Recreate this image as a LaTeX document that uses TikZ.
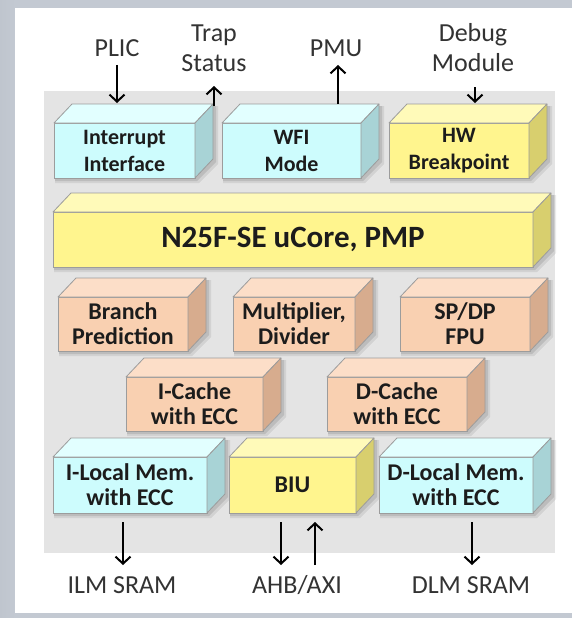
\documentclass[tikz,border=0pt]{standalone}
\usepackage{fontspec}
\setmainfont{Carlito}
\usetikzlibrary{arrows.meta}
\definecolor{outerbg}{HTML}{C3C9D2}
\definecolor{panelgray}{HTML}{E4E4E4}
\definecolor{edgegray}{HTML}{9C9C9C}
\definecolor{txt}{HTML}{1C1C1C}
\definecolor{cyanF}{HTML}{CDFCFD}
\definecolor{cyanT}{HTML}{E2FFFF}
\definecolor{cyanS}{HTML}{A8D3D6}
\definecolor{yelF}{HTML}{FFF58E}
\definecolor{yelT}{HTML}{FFFAB9}
\definecolor{yelS}{HTML}{D8CF6E}
\definecolor{peaF}{HTML}{F9D0B1}
\definecolor{peaT}{HTML}{FCDEC8}
\definecolor{peaS}{HTML}{D7AC8E}
\tikzset{
  cubefront/.style={draw=edgegray,line width=0.8pt,inner sep=0pt,outer sep=0pt,align=center,text=txt},
  cubeedge/.style={draw=edgegray,line width=0.8pt,line join=round},
  rowonefont/.style={font=\bfseries\fontsize{22}{27}\selectfont},
  rowfont/.style={font=\bfseries\fontsize{24}{25}\selectfont},
  corefont/.style={font=\bfseries\fontsize{31}{36}\selectfont},
  lab/.style={font=\fontsize{26}{30}\selectfont,text=txt!90,align=center,inner sep=0pt},
  arr/.style={line width=2pt,-{Straight Barb[length=7pt,width=15pt,line width=2pt]}}
}
\newcommand\cubebox[8]{%
  \fill[black,opacity=0.08] (#2+1,#5+5) -- (#2+1,#4+2) -- (#2+20,#4-17) -- (#3+23,#4-17) -- (#3+23,#5-14) -- (#3+4,#5+5) -- cycle;
  \fill[black,opacity=0.10] (#2+1,#5+3) -- (#2+1,#4+2) -- (#2+20,#4-17) -- (#3+21,#4-17) -- (#3+21,#5-16) -- (#3+2,#5+3) -- cycle;
  \node[cubefront,fill=#6F,minimum width={#3-#2},minimum height={#5-#4},#7] (#1) at ({(#2+#3)/2},{(#4+#5)/2}) {#8};
  \filldraw[cubeedge,fill=#6T] (#1.north west) -- ++(18,-19) -- ++({#3-#2},0) -- (#1.north east) -- cycle;
  \filldraw[cubeedge,fill=#6S] (#1.north east) -- ++(18,-19) -- ++(0,{#5-#4}) -- (#1.south east) -- cycle;
}
\begin{document}
\begin{tikzpicture}[x=1pt,y=-1pt]
\useasboundingbox (0,0) rectangle (572,618);
\fill[outerbg] (0,0) rectangle (572,618);
\fill[left color=outerbg!80!black!10!outerbg,right color=outerbg] (0,0) rectangle (15,618);
\fill[white] (15,8) rectangle (572,613);
\fill[panelgray] (44,91) rectangle (555,553);

% row 1
\cubebox{intr}{54}{195}{123}{178}{cyan}{rowonefont}{Interrupt\\Interface}
\cubebox{wfi}{222}{361}{123}{178}{cyan}{rowonefont}{WFI\\Mode}
\cubebox{hwbp}{389}{529}{123}{178}{yel}{rowonefont}{HW\\Breakpoint}
% core
\cubebox{core}{53}{533}{212}{267}{yel}{corefont}{N25F-SE uCore, PMP}
% row 3
\cubebox{bp}{58}{188}{297}{351}{pea}{rowfont}{Branch\\Prediction}
\cubebox{mul}{233}{355}{297}{351}{pea}{rowfont}{Multiplier,\\Divider}
\cubebox{fpu}{400}{530}{297}{351}{pea}{rowfont}{SP/DP\\FPU}
% row 4
\cubebox{icache}{126}{263}{377}{431}{pea}{rowfont}{I-Cache\\with ECC}
\cubebox{dcache}{327}{467}{377}{431}{pea}{rowfont}{D-Cache\\with ECC}
% row 5
\cubebox{ilm}{53}{207}{457}{513}{cyan}{rowfont}{I-Local Mem.\\with ECC}
\cubebox{biu}{229}{356}{457}{513}{yel}{rowfont}{BIU}
\cubebox{dlm}{379}{533}{457}{513}{cyan}{rowfont}{D-Local Mem.\\with ECC}

% labels
\node[lab] (plic) at (117,48) {PLIC};
\node[lab] (trap) at (214,48) {Trap\\Status};
\node[lab] (pmu) at (336,48) {PMU};
\node[lab] (dbg) at (473,48) {Debug\\Module};
\node[lab] (ilmsram) at (122,585) {ILM SRAM};
\node[lab] (ahb) at (297,585) {AHB/AXI};
\node[lab] (dlmsram) at (471,585) {DLM SRAM};

% connector ends
\coordinate (plicA) at (117,65);   \coordinate (plicB) at (117,103);
\coordinate (trapA) at (214,106);  \coordinate (trapB) at (214,86);
\coordinate (pmuA) at (338,104);   \coordinate (pmuB) at (338,65);
\coordinate (dbgA) at (475,87);    \coordinate (dbgB) at (475,103);
\coordinate (ilmA) at (123,522);   \coordinate (ilmB) at (123,565);
\coordinate (ahbA) at (281,522);   \coordinate (ahbB) at (281,565);
\coordinate (ahbC) at (315,565);   \coordinate (ahbD) at (315,522);
\coordinate (dlmA) at (472,522);   \coordinate (dlmB) at (472,565);

\draw[arr] (plicA) -- (plicB);
\draw[arr] (trapA) -- (trapB);
\draw[arr] (pmuA) -- (pmuB);
\draw[arr] (dbgA) -- (dbgB);
\draw[arr] (ilmA) -- (ilmB);
\draw[arr] (ahbA) -- (ahbB);
\draw[arr] (ahbC) -- (ahbD);
\draw[arr] (dlmA) -- (dlmB);
\end{tikzpicture}
\end{document}
